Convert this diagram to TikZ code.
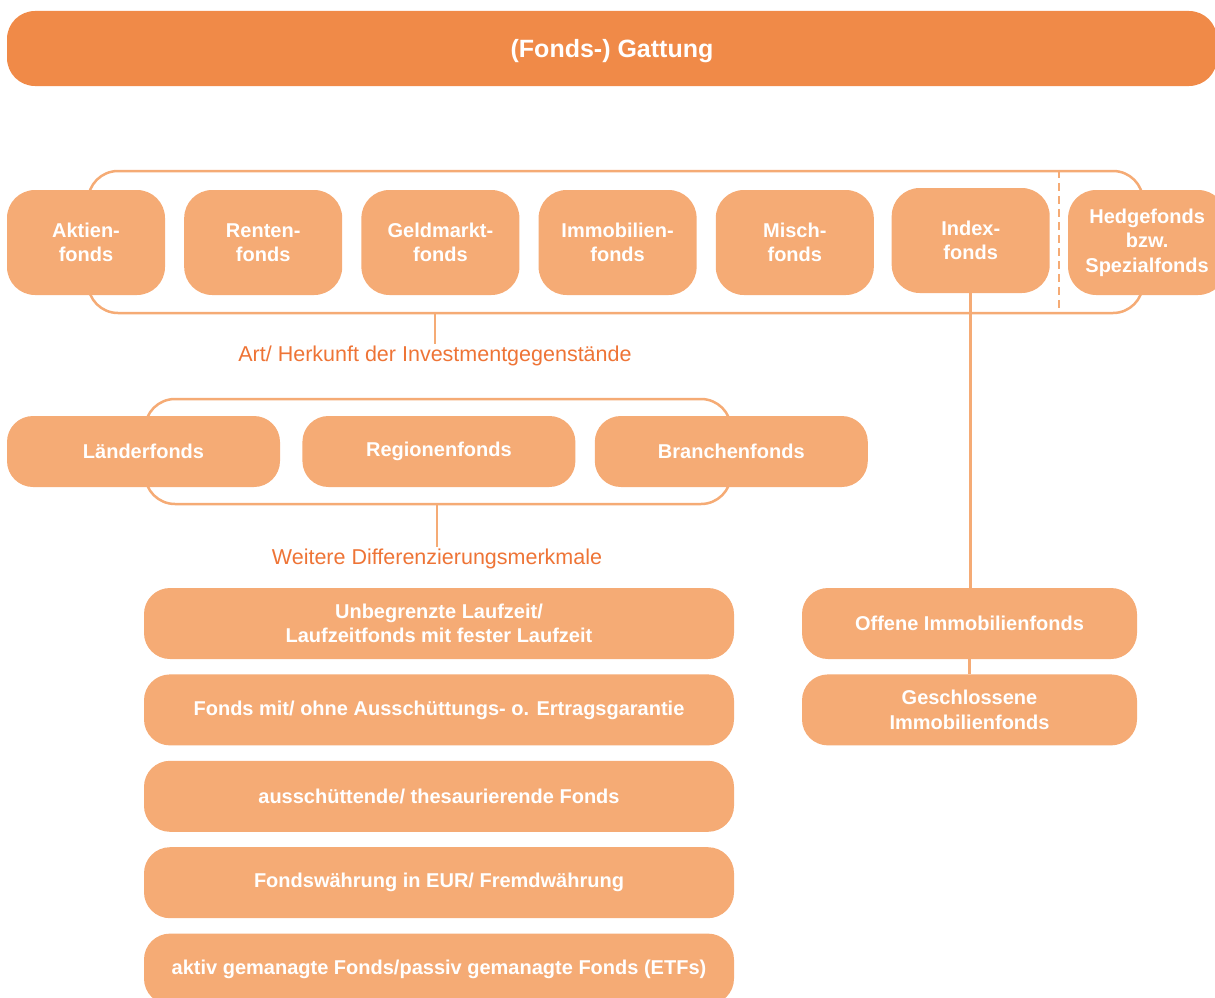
\documentclass[tikz,border=0pt]{standalone}
\usepackage{fontspec}
\setmainfont{Liberation Sans}
\usetikzlibrary{positioning, calc}
\definecolor{toporange}{HTML}{F08A48}
\definecolor{boxorange}{HTML}{F5AB75}
\definecolor{labelorange}{HTML}{EE7436}

\begin{document}
\begin{tikzpicture}[x=1pt, y=-1pt,
    fonds/.style={rounded corners=28pt, fill=boxorange, text=white, align=center, inner sep=0pt,
        font=\bfseries\fontsize{20}{24.5}\selectfont, minimum width=158pt, minimum height=105pt},
    flach/.style={fonds, rounded corners=26pt, minimum height=71pt},
    klammer/.style={draw=boxorange, line width=2.5pt, rounded corners=30pt, inner sep=0pt},
    linie/.style={draw=boxorange, line width=2.5pt},
    beschr/.style={text=labelorange, font=\fontsize{21.5}{25}\selectfont, inner sep=2pt}]
    \useasboundingbox (0,0) rectangle (1215,998);

    \node[fonds, fill=toporange, minimum width=1210pt, minimum height=75pt, text depth=-10pt,
        font=\bfseries\fontsize{25}{29}\selectfont] (gattung) at (612,48.5) {(Fonds-) Gattung};

    \node[klammer, minimum width=1055pt, minimum height=142pt] (klammer1) at (615.5,242) {};
    \node[klammer, minimum width=586pt, minimum height=105pt] (klammer2) at (438,451.5) {};

    \node[fonds] (aktien) at (86,242.5) {Aktien-\\fonds};
    \node[fonds, right=18.8pt of aktien] (renten) {Renten-\\fonds};
    \node[fonds, right=18.8pt of renten] (geldmarkt) {Geldmarkt-\\fonds};
    \node[fonds, right=18.8pt of geldmarkt] (immo) {Immobilien-\\fonds};
    \node[fonds, right=18.8pt of immo] (misch) {Misch-\\fonds};
    \node[fonds, right=17.5pt of misch, yshift=2pt] (index) {Index-\\fonds};
    \node[fonds, right=18pt of index, yshift=-2pt] (hedge) {Hedgefonds\\bzw.\\Spezialfonds};
    \coordinate (trenn) at ($(index.east)!.5!(hedge.west)$);
    \draw[linie, dash pattern=on 8pt off 5pt] (klammer1.north -| trenn) -- (klammer1.south -| trenn);

    \node[beschr] (art) at (435,356) {Art/ Herkunft der Investmentgegenstände};
    \draw[linie] (art.north |- klammer1.south) -- (art.north);

    \node[flach, minimum width=273pt] (laender) at (143.5,451.5) {Länderfonds};
    \node[flach, minimum width=273pt, right=22pt of laender] (regionen) {Regionenfonds};
    \node[flach, minimum width=273pt, right=19pt of regionen] (branchen) {Branchenfonds};

    \node[beschr] (weitere) at (437,559) {Weitere Differenzierungsmerkmale};
    \draw[linie] (weitere.north |- klammer2.south) -- (weitere.north);

    \node[flach, minimum width=590pt] (laufzeit) at (439,623.5) {Unbegrenzte Laufzeit/\\Laufzeitfonds mit fester Laufzeit};
    \node[flach, minimum width=590pt, below=15pt of laufzeit] (garantie) {Fonds mit/ ohne Ausschüttungs- o. Ertragsgarantie};
    \node[flach, minimum width=590pt, below=15pt of garantie] (ausschuett) {ausschüttende/ thesaurierende Fonds};
    \node[flach, minimum width=590pt, below=15pt of ausschuett] (waehrung) {Fondswährung in EUR/ Fremdwährung};
    \node[flach, minimum width=590pt, below=15pt of waehrung] (gemanagt) {aktiv gemanagte Fonds/passiv gemanagte Fonds (ETFs)};

    \node[flach, minimum width=335pt] (offen) at (969.5,623.5) {Offene Immobilienfonds};
    \node[flach, minimum width=335pt, below=15pt of offen] (geschl) {Geschlossene\\Immobilienfonds};

    \draw[linie] (index.south) -- (index.south |- offen.north);
    \draw[linie] (offen.south) -- (geschl.north);
\end{tikzpicture}
\end{document}
